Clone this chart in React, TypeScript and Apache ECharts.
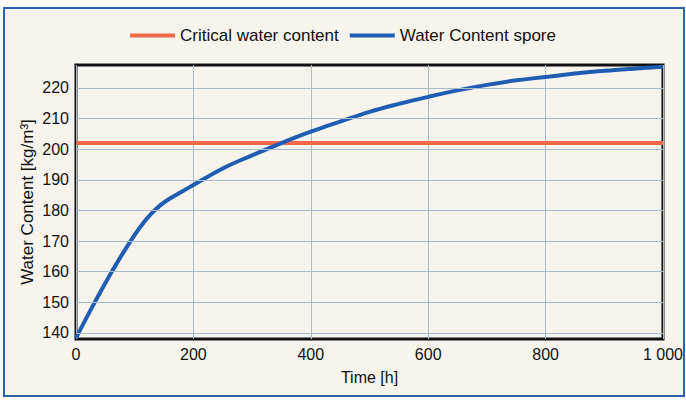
import React, { useEffect, useRef } from "react";
import * as echarts from "echarts";

const timeHours = [0, 25, 50, 75, 100, 115, 130, 145, 160, 180, 200, 250, 300, 350, 400, 450, 500, 550, 600, 650, 700, 750, 800, 850, 900, 950, 1000];
const waterContentSpore = [138.3, 147.5, 156.3, 164.5, 172.0, 176.0, 179.3, 181.9, 183.9, 186.1, 188.3, 193.7, 198.0, 202.0, 205.7, 209.0, 212.2, 214.8, 217.1, 219.2, 221.0, 222.5, 223.6, 224.7, 225.6, 226.3, 226.9];
const criticalTimes = [0, 1000];
const criticalValues = [202, 202];
const yTicks = [140, 150, 160, 170, 180, 190, 200, 210, 220];
const xTicks = [0, 200, 400, 600, 800, 1000];

const FONT = "'Liberation Sans', Arial, sans-serif";

export default function App() {
  const ref = useRef<HTMLDivElement>(null);
  useEffect(() => {
    document.body.style.margin = "0";
    const chart = echarts.init(ref.current!, null, { renderer: "svg" });
    const gridColor = "#a9bccb";
    chart.setOption({
      animation: false,
      textStyle: { fontFamily: FONT },
      legend: {
        data: ["Critical water content", "Water Content spore"],
        top: 22,
        left: "center",
        icon: "rect",
        itemWidth: 45,
        itemHeight: 4,
        itemGap: 11,
        textStyle: { fontSize: 17, color: "#111", fontFamily: FONT },
      },
      grid: {
        left: 76,
        right: 21,
        top: 65,
        bottom: 64,
        show: true,
        borderColor: "#111",
        borderWidth: 3,
        backgroundColor: "transparent",
      },
      xAxis: {
        type: "value",
        min: 0,
        max: 1000,
        interval: 200,
        name: "Time [h]",
        nameLocation: "middle",
        nameGap: 30,
        nameMoveOverlap: false,
        nameTextStyle: { fontSize: 16, color: "#111", fontFamily: FONT },
        axisLine: { show: false },
        axisTick: { show: false },
        axisLabel: {
          fontSize: 16,
          color: "#111",
          margin: 7,
          customValues: xTicks,
          formatter: (v: number) => (v >= 1000 ? `${Math.floor(v / 1000)} ${String(v % 1000).padStart(3, "0")}` : String(v)),
        },
        splitLine: { show: true, lineStyle: { color: gridColor, width: 1 } },
      },
      yAxis: {
        type: "value",
        min: 138,
        max: 227.5,
        name: "Water Content [kg/m³]",
        nameLocation: "middle",
        nameRotate: 90,
        nameGap: 40,
        nameMoveOverlap: false,
        nameTextStyle: { fontSize: 17, color: "#111", fontFamily: FONT },
        axisLine: { show: false },
        axisTick: { show: false },
        axisLabel: { fontSize: 16, color: "#111", margin: 7, customValues: yTicks },
        splitLine: { show: false },
      },
      series: [
        {
          name: "grid",
          type: "line",
          data: [],
          z: 1,
          silent: true,
          markLine: {
            silent: true,
            symbol: ["none", "none"],
            label: { show: false },
            lineStyle: { color: gridColor, width: 1, type: "solid" },
            data: yTicks.map((v) => ({ yAxis: v })),
          },
        },
        {
          name: "Critical water content",
          type: "line",
          showSymbol: false,
          symbol: "none",
          z: 3,
          lineStyle: { color: "#f2694a", width: 4 },
          itemStyle: { color: "#f2694a" },
          data: criticalTimes.map((t, i) => [t, criticalValues[i]]),
        },
        {
          name: "Water Content spore",
          type: "line",
          showSymbol: false,
          symbol: "none",
          smooth: 0.4,
          z: 4,
          lineStyle: { color: "#1f5db3", width: 4 },
          itemStyle: { color: "#1f5db3" },
          data: timeHours.map((t, i) => [t, waterContentSpore[i]]),
        },
      ],
    });
    return () => chart.dispose();
  }, []);
  return (
    <div style={{ position: "relative", width: 686, height: 403, background: "#fff", overflow: "hidden" }}>
      <div
        style={{
          position: "absolute",
          left: 3,
          top: 7,
          width: 678,
          height: 386,
          border: "2px solid #2a63ad",
          background: "#f7f4ee",
        }}
      />
      <div ref={ref} style={{ position: "absolute", left: 0, top: 0, width: 686, height: 403 }} />
    </div>
  );
}
